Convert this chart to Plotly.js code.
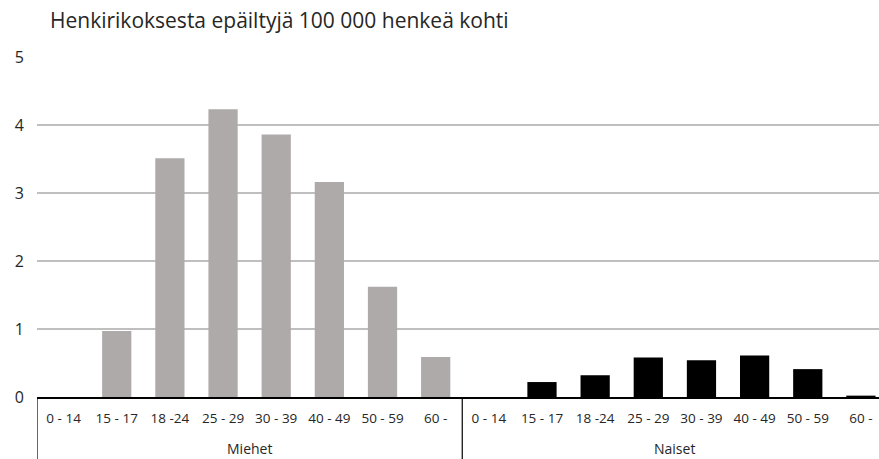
<!DOCTYPE html>
<html>
<head>
<meta charset="utf-8">
<script src="https://cdn.plot.ly/plotly-3.0.1.min.js"></script>
<style>html,body{margin:0;padding:0;background:#fff;}#chart{width:879px;height:459px;}</style>
</head>
<body>
<div id="chart"></div>
<script>
const titleText = 'Henkirikoksesta epäiltyjä 100 000 henkeä kohti';
const ageGroups = ['0 - 14', '15 - 17', '18 -24', '25 - 29', '30 - 39', '40 - 49', '50 - 59', '60 -'];
const groupNames = ['Miehet', 'Naiset'];
const miehet = [0, 0.97, 3.51, 4.23, 3.86, 3.16, 1.62, 0.59];
const naiset = [0, 0.22, 0.32, 0.58, 0.54, 0.61, 0.41, 0.02];
const seriesValues = [miehet, naiset];
const seriesColors = ['#aeaaaa', '#000000'];

const FONT = '"Open Sans", sans-serif';
const n = ageGroups.length;

// category positions: group g occupies slots g*n .. g*n+n-1
const traces = seriesValues.map((vals, g) => ({
  type: 'bar',
  name: groupNames[g],
  x: ageGroups.map((_, i) => g * n + i),
  y: vals,
  marker: {color: seriesColors[g]},
  width: 0.55,
  hoverinfo: 'y'
}));

const allTickVals = [];
const allTickText = [];
groupNames.forEach((_, g) => ageGroups.forEach((a, i) => {
  allTickVals.push(g * n + i);
  allTickText.push(a);
}));

const plotH = 459 - 57 - 62;

// group labels below the category labels
const annotations = groupNames.map((name, g) => ({
  text: name,
  xref: 'x', x: g * n + (n - 1) / 2,
  yref: 'paper', y: -(52 / plotH),
  xanchor: 'center', yanchor: 'middle',
  showarrow: false,
  font: {family: FONT, size: 14, color: '#262626'}
}));

// group dividers at group boundaries
const shapes = groupNames.map((_, g) => ({
  type: 'line',
  xref: 'x', x0: g * n - 0.5, x1: g * n - 0.5,
  yref: 'paper', y0: 0, y1: -(62 / plotH),
  line: {color: '#000000', width: 1.2}
}));

const layout = {
  width: 879,
  height: 459,
  margin: {l: 37, r: 0, t: 57, b: 62},
  paper_bgcolor: '#ffffff',
  plot_bgcolor: '#ffffff',
  showlegend: false,
  barmode: 'overlay',
  font: {family: FONT, color: '#404040'},
  title: {
    text: titleText,
    font: {family: FONT, size: 21, color: '#262626'},
    xref: 'container', x: 50 / 879, xanchor: 'left',
    yref: 'container', y: 1 - 21 / 459, yanchor: 'middle'
  },
  xaxis: {
    type: 'linear',
    range: [-0.5, 15.34],
    tickmode: 'array',
    tickvals: allTickVals,
    ticktext: allTickText,
    showline: true,
    linecolor: '#000000',
    linewidth: 1.5,
    showgrid: false,
    zeroline: false,
    ticks: '',
    ticklabelstandoff: 8,
    tickfont: {family: FONT, size: 13.5, color: '#262626'}
  },
  yaxis: {
    range: [0, 5],
    dtick: 1,
    showgrid: true,
    gridcolor: '#bfbfbf',
    gridwidth: 1.2,
    zeroline: false,
    showline: false,
    ticks: '',
    ticklabelstandoff: 12,
    tickfont: {family: FONT, size: 16, color: '#262626'}
  },
  annotations: annotations,
  shapes: shapes
};

Plotly.newPlot('chart', traces, layout, {displayModeBar: false, staticPlot: true});
</script>
</body>
</html>
